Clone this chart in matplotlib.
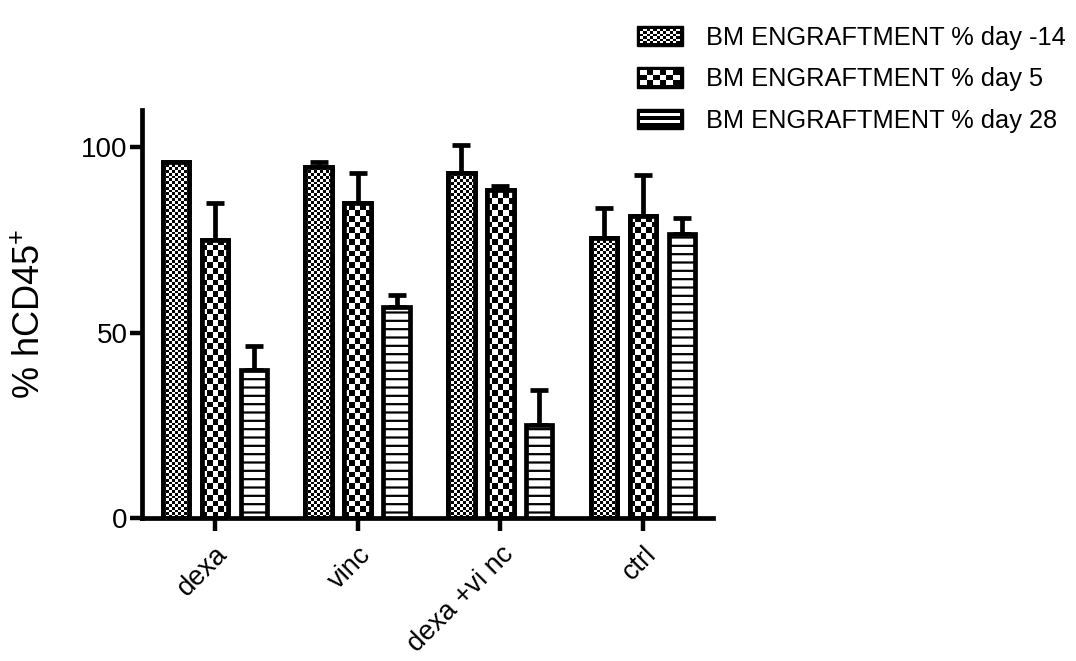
import numpy as np
import matplotlib
matplotlib.use("Agg")
import matplotlib.pyplot as plt
from matplotlib.patches import Rectangle
from matplotlib.legend_handler import HandlerBase

plt.rcParams['font.family'] = ['Liberation Sans', 'DejaVu Sans']
plt.rcParams['mathtext.fontset'] = 'custom'
plt.rcParams['mathtext.rm'] = 'Liberation Sans'
plt.rcParams['mathtext.default'] = 'regular'
plt.rcParams['hatch.linewidth'] = 1.6

# data
groups = ['dexa', 'vinc', 'dexa +vi nc', 'ctrl']
series = ['BM ENGRAFTMENT % day -14', 'BM ENGRAFTMENT % day 5', 'BM ENGRAFTMENT % day 28']
day_m14 = [96, 94.5, 93, 75.5]
day_m14_err = [0, 1.5, 7.5, 8]
day_5 = [75, 85, 88.5, 81.5]
day_5_err = [10, 8, 1, 11]
day_28 = [40, 57, 25, 76.5]
day_28_err = [6.5, 3, 9.5, 4.5]

values = [day_m14, day_5, day_28]
errors = [day_m14_err, day_5_err, day_28_err]
patterns = ['fine', 'coarse', 'lines']

W, H = 1076, 661
fig = plt.figure(figsize=(W / 100, H / 100), dpi=100)
ax_l, ax_r, ax_b, ax_t = 142, 713, 518, 110
ax = fig.add_axes([ax_l / W, 1 - ax_b / H, (ax_r - ax_l) / W, (ax_b - ax_t) / H])

xlim = (-0.51, 3.49)
ylim = (0, 110)
px_x = (ax_r - ax_l) / (xlim[1] - xlim[0])
px_y = (ax_b - ax_t) / (ylim[1] - ylim[0])

x = np.arange(len(groups))
offset = 0.273
width = 0.185
cells = {'fine': 2.8, 'coarse': 5.8}
lw = 3.4

for i, (vals, errs, pat) in enumerate(zip(values, errors, patterns)):
    xs = x + (i - 1) * offset
    hatch = '--' if pat == 'lines' else None
    bars = ax.bar(xs, vals, width, facecolor='white', edgecolor='black',
                  linewidth=lw, hatch=hatch, zorder=3 if hatch else 1)
    ax.errorbar(xs, vals, yerr=[np.zeros(len(errs)), errs], fmt='none',
                ecolor='black', elinewidth=lw, capsize=6.5, capthick=lw, zorder=2)
    if pat in cells:
        # checkerboard fill, clipped to each bar
        c = cells[pat]
        for b in bars:
            bx, bw, bh = b.get_x(), b.get_width(), b.get_height()
            ncol = max(1, int(round(bw * px_x / c)))
            nrow = int(np.ceil(bh * px_y / c))
            arr = np.add.outer(np.arange(nrow), np.arange(ncol)) % 2
            im = ax.imshow(arr, cmap='gray', vmin=0, vmax=1, origin='lower',
                           interpolation='nearest', aspect='auto',
                           extent=(bx, bx + bw, 0, nrow * c / px_y), zorder=2)
            im.set_clip_path(b)
        for b in bars:
            ax.add_patch(Rectangle((b.get_x(), 0), b.get_width(), b.get_height(),
                                   facecolor='none', edgecolor='black',
                                   linewidth=lw, zorder=3))

ax.set_xlim(*xlim)
ax.set_ylim(*ylim)
ax.set_yticks([0, 50, 100])
ax.set_xticks(x)
ax.set_xticklabels(groups, rotation=45, ha='right', va='top', rotation_mode='anchor')
ax.tick_params(axis='y', labelsize=20, width=3.2, length=8.5, pad=2)
ax.tick_params(axis='x', labelsize=19.5, width=3.2, length=9, pad=8)
for s in ['top', 'right']:
    ax.spines[s].set_visible(False)
for s in ['left', 'bottom']:
    ax.spines[s].set_linewidth(3.4)

fig.text(30 / W, 1 - 314 / H, '% hCD45$^{+}$', rotation=90, ha='center', va='center', fontsize=26)


class PatternHandler(HandlerBase):
    def create_artists(self, legend, orig_handle, xd, yd, w, h, fontsize, trans):
        pat = orig_handle
        x0, y0 = -xd, -yd
        arts = [Rectangle((x0, y0), w, h, facecolor='black', edgecolor='black', transform=trans)]
        m = 2.2
        if pat == 'lines':
            for k in range(2):
                sy = y0 + h * (0.28 + 0.36 * k)
                arts.append(Rectangle((x0 + m, sy), w - 2 * m, h * 0.15,
                                      facecolor='white', edgecolor='none', transform=trans))
        else:
            n = 12 if pat == 'fine' else 6
            nr = 6 if pat == 'fine' else 3
            cw = (w - 2 * m) / n
            ch = (h - 2 * m) / nr
            for r in range(nr):
                for cc in range(n):
                    if (r + cc) % 2 == 0:
                        arts.append(Rectangle((x0 + m + cc * cw, y0 + m + r * ch), cw, ch,
                                              facecolor='white', edgecolor='none', transform=trans))
        return arts


fig.legend(patterns, series, handler_map={str: PatternHandler()},
           loc='upper left', bbox_to_anchor=(637 / W, 1 - 26 / H), frameon=False,
           fontsize=18.3, handlelength=1.8, handleheight=0.85, handletextpad=0.9,
           labelspacing=0.68, borderpad=0, borderaxespad=0)

fig.savefig('out.png', dpi=100)
